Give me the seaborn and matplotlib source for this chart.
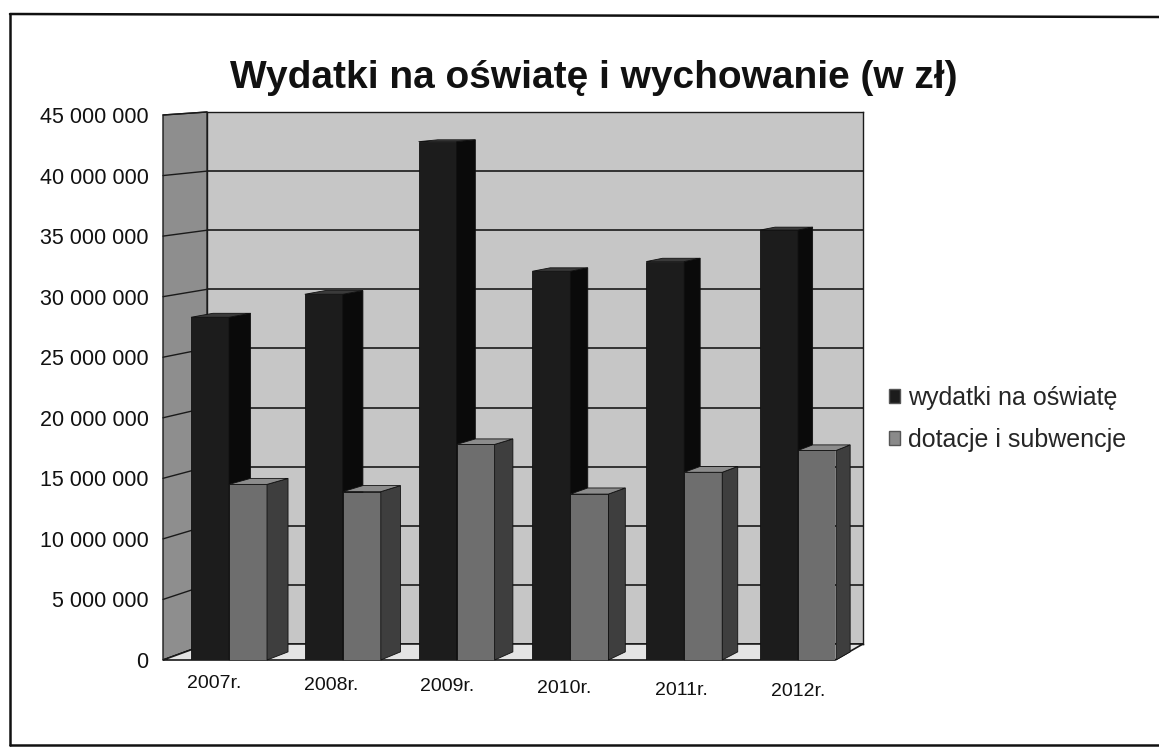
import pandas as pd
import matplotlib
matplotlib.use("Agg")
import matplotlib.pyplot as plt
from matplotlib.patches import Polygon, Patch
from matplotlib.lines import Line2D
from matplotlib.ticker import FuncFormatter, MultipleLocator
from matplotlib.transforms import ScaledTranslation
import seaborn as sns

# dane
lata = ["2007r.", "2008r.", "2009r.", "2010r.", "2011r.", "2012r."]
wydatki = [28.3e6, 30.2e6, 42.8e6, 32.1e6, 32.9e6, 35.5e6]
dotacje = [14.5e6, 13.9e6, 17.8e6, 13.7e6, 15.5e6, 17.3e6]
serie = ["wydatki na oświatę", "dotacje i subwencje"]
tytul = "Wydatki na oświatę i wychowanie (w zł)"

W, H = 1159, 756

sns.set_style("white")
plt.rcParams["font.family"] = ["Liberation Sans", "DejaVu Sans"]

df = pd.DataFrame({
    "rok": lata * 2,
    "kwota": wydatki + dotacje,
    "seria": [serie[0]] * len(lata) + [serie[1]] * len(lata),
})

fig = plt.figure(figsize=(W / 100, H / 100), dpi=100)
fig.patch.set_facecolor("white")

# przednia płaszczyzna "pudełka" 3D (piksele, początek w lewym górnym rogu)
FX0, FX1, FYT, FYB = 163, 835, 115, 660
VX, VY = 2004, -10.5   # punkt zbiegu perspektywy
F_WALL = 0.0239
F_BAR = 0.0121


def depth(x, y, f):
    return x + f * (VX - x), y + f * (VY - y)


def fig_xy(x, y):
    return x / W, 1 - y / H


def rect(x0, x1, yt, yb):
    return [x0 / W, 1 - yb / H, (x1 - x0) / W, (yb - yt) / H]


bx0, byt = depth(FX0, FYT, F_WALL)
bx1, byb = depth(FX1, FYB, F_WALL)

# tylna ściana z liniami siatki
back = fig.add_axes(rect(bx0, bx1, byt, byb), zorder=0)
back.set_facecolor("#c6c6c6")
back.set_ylim(0, 45e6)
back.set_xlim(0, 1)
back.yaxis.set_major_locator(MultipleLocator(5e6))
back.grid(axis="y", color="#1a1a1a", linewidth=1.2)
back.set_xticks([])
back.tick_params(axis="y", length=0, labelleft=False)
for name, sp in back.spines.items():
    sp.set_color("#1a1a1a")
    sp.set_linewidth(1.0)

# lewa ściana i podłoga
lewa = [fig_xy(FX0, FYT), fig_xy(bx0, byt), fig_xy(bx0, byb), fig_xy(FX0, FYB)]
fig.add_artist(Polygon(lewa, closed=True, facecolor="#8e8e8e", edgecolor="#1a1a1a",
                       linewidth=1.0, transform=fig.transFigure, zorder=1))
for v in range(0, 46, 5):
    yf = FYB - v / 45 * (FYB - FYT)
    xb, yb = depth(FX0, yf, F_WALL)
    p0, p1 = fig_xy(FX0, yf), fig_xy(xb, yb)
    fig.add_artist(Line2D([p0[0], p1[0]], [p0[1], p1[1]], color="#1a1a1a",
                          linewidth=1.0, transform=fig.transFigure, zorder=1))

podloga = [fig_xy(FX0, FYB), fig_xy(FX1, FYB), fig_xy(bx1, byb), fig_xy(bx0, byb)]
fig.add_artist(Polygon(podloga, closed=True, facecolor="#e4e4e4", edgecolor="#1a1a1a",
                       linewidth=1.2, transform=fig.transFigure, zorder=1))

# słupki
front = fig.add_axes(rect(FX0, FX1, FYT, FYB), zorder=2)
front.patch.set_alpha(0)
kolory = ["#1c1c1c", "#6e6e6e"]
boki = ["#0a0a0a", "#3e3e3e"]
gory = ["#3a3a3a", "#8c8c8c"]
sns.barplot(data=df, x="rok", y="kwota", hue="seria", hue_order=serie,
            palette=kolory, saturation=1, width=0.668, errorbar=None,
            legend=False, edgecolor="#111111", linewidth=0.6, ax=front)
front.set_xlim(-0.58, 5.325)
front.set_ylim(0, 45e6)


def to_px(xd, yd):
    xd, yd = front.transData.transform((xd, yd))
    return xd, H - yd


for i, cont in enumerate(front.containers):
    z = 2 + i
    for bar in cont:
        bar.set_zorder(z)
        x0, w, h = bar.get_x(), bar.get_width(), bar.get_height()
        tl = to_px(x0, h)
        tr = to_px(x0 + w, h)
        br = to_px(x0 + w, 0)
        tl_b = depth(*tl, F_BAR)
        tr_b = depth(*tr, F_BAR)
        br_b = depth(*br, F_BAR)
        bok = [fig_xy(*p) for p in (tr, br, br_b, tr_b)]
        gora = [fig_xy(*p) for p in (tl, tr, tr_b, tl_b)]
        for pts, c in ((bok, boki[i]), (gora, gory[i])):
            front.add_artist(Polygon(pts, closed=True, facecolor=c, edgecolor="#111111",
                                     linewidth=0.6, transform=fig.transFigure,
                                     clip_on=False, zorder=z + 0.5))

for sp in front.spines.values():
    sp.set_visible(False)
front.set_xlabel("")
front.set_ylabel("")
front.yaxis.set_major_locator(MultipleLocator(5e6))
front.yaxis.set_major_formatter(FuncFormatter(lambda v, p: f"{int(round(v)):,}".replace(",", " ")))
front.tick_params(axis="y", length=0, pad=10.5, labelsize=15.5, colors="#111111")
front.tick_params(axis="x", length=0, pad=11, labelsize=14, colors="#111111")

# etykiety lat lekko przesunięte jak w perspektywie oryginału
n = len(lata)
for i, lab in enumerate(front.get_xticklabels()):
    dx = -15 * (n - 1 - i) / (n - 1)
    dy = -8 * i / (n - 1)
    lab.set_transform(lab.get_transform() + ScaledTranslation(dx / 100, dy / 100, fig.dpi_scale_trans))

# legenda
uchwyty = [Patch(facecolor="#1c1c1c", edgecolor="#555555"),
           Patch(facecolor="#8a8a8a", edgecolor="#555555")]
fig.legend(handles=uchwyty, labels=serie, loc="center left",
           bbox_to_anchor=(889 / W, 1 - 419 / H), frameon=False, fontsize=18,
           handlelength=0.45, handleheight=0.45, handletextpad=0.3,
           labelspacing=0.72, borderaxespad=0, borderpad=0)

fig.text(594 / W, 1 - 88 / H, tytul, ha="center", va="baseline",
         fontsize=28, fontweight="bold", color="#111111")

# ramka wokół wykresu
ramka = dict(color="#111111", linewidth=1.8, transform=fig.transFigure)
fig.add_artist(Line2D([10 / W, 1], [1 - 14 / H, 1 - 17 / H], **ramka))
fig.add_artist(Line2D([10 / W, 10 / W], [1 - 14 / H, 1 - 745 / H], **ramka))
fig.add_artist(Line2D([10 / W, 1], [1 - 745 / H, 1 - 745 / H], **ramka))

fig.savefig("out.png", dpi=100)
